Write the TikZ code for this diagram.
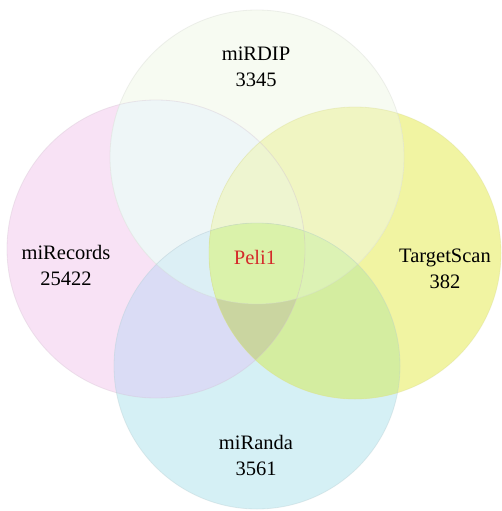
\documentclass[tikz,border=0pt]{standalone}
\usepackage{fontspec}
\setmainfont{Liberation Serif}
\begin{document}
\begin{tikzpicture}[x=1pt,y=-1pt,
    lbl/.style={align=center,font=\fontsize{20.5}{26}\selectfont,text=black,inner sep=0pt},
    rim/.style={line width=0.8pt,draw opacity=0.35}]
  % canvas
  \useasboundingbox[fill=white] (0,0) rectangle (502,511);

  % set centres and radii
  \coordinate (cT) at (257,157); \def\rT{147}
  \coordinate (cL) at (156,249); \def\rL{149}
  \coordinate (cR) at (355,253); \def\rR{146}
  \coordinate (cB) at (257,366); \def\rB{143}

  % region colours
  \definecolor{colT}{HTML}{F7FBF2}
  \definecolor{colL}{HTML}{F8E2F5}
  \definecolor{colR}{HTML}{F1F4A2}
  \definecolor{colB}{HTML}{D5F0F5}
  \definecolor{colTL}{HTML}{EEF6F7}
  \definecolor{colTR}{HTML}{F0F5C2}
  \definecolor{colLB}{HTML}{DADCF5}
  \definecolor{colRB}{HTML}{D4EDA0}
  \definecolor{colLR}{HTML}{E4EBC8}
  \definecolor{colTB}{HTML}{DDF2F2}
  \definecolor{colTLB}{HTML}{DCEFF5}
  \definecolor{colTRB}{HTML}{DCF2B4}
  \definecolor{colTLR}{HTML}{EEF5D0}
  \definecolor{colLRB}{HTML}{CAD5A0}
  \definecolor{colQ}{HTML}{DAF2AA}
  \definecolor{peli}{HTML}{D42A2A}

  % single sets
  \fill[colL] (cL) circle (\rL);
  \fill[colB] (cB) circle (\rB);
  \fill[colR] (cR) circle (\rR);
  \fill[colT] (cT) circle (\rT);

  % pairwise overlaps
  \begin{scope}\clip (cT) circle (\rT); \fill[colTL] (cL) circle (\rL);\end{scope}
  \begin{scope}\clip (cT) circle (\rT); \fill[colTR] (cR) circle (\rR);\end{scope}
  \begin{scope}\clip (cT) circle (\rT); \fill[colTB] (cB) circle (\rB);\end{scope}
  \begin{scope}\clip (cL) circle (\rL); \fill[colLB] (cB) circle (\rB);\end{scope}
  \begin{scope}\clip (cL) circle (\rL); \fill[colLR] (cR) circle (\rR);\end{scope}
  \begin{scope}\clip (cR) circle (\rR); \fill[colRB] (cB) circle (\rB);\end{scope}

  % triple overlaps
  \begin{scope}\clip (cT) circle (\rT); \clip (cL) circle (\rL); \fill[colTLB] (cB) circle (\rB);\end{scope}
  \begin{scope}\clip (cT) circle (\rT); \clip (cR) circle (\rR); \fill[colTRB] (cB) circle (\rB);\end{scope}
  \begin{scope}\clip (cT) circle (\rT); \clip (cL) circle (\rL); \fill[colTLR] (cR) circle (\rR);\end{scope}
  \begin{scope}\clip (cL) circle (\rL); \clip (cR) circle (\rR); \fill[colLRB] (cB) circle (\rB);\end{scope}

  % all four
  \begin{scope}\clip (cT) circle (\rT); \clip (cL) circle (\rL); \clip (cR) circle (\rR); \fill[colQ] (cB) circle (\rB);\end{scope}

  % faint rims
  \draw[rim,color=colL!85!black] (cL) circle (\rL);
  \draw[rim,color=colB!85!black] (cB) circle (\rB);
  \draw[rim,color=colR!90!black] (cR) circle (\rR);
  \draw[rim,color=colT!85!black] (cT) circle (\rT);

  % labels
  \node[lbl] (lT) at (256,67) {miRDIP\\3345};
  \node[lbl] (lL) at (66,265) {miRecords\\25422};
  \node[lbl] (lR) at (445,269) {TargetScan\\382};
  \node[lbl] (lB) at (256,455) {miRanda\\3561};
  \node[lbl,text=peli] (lQ) at (255,257) {Peli1};
\end{tikzpicture}
\end{document}
